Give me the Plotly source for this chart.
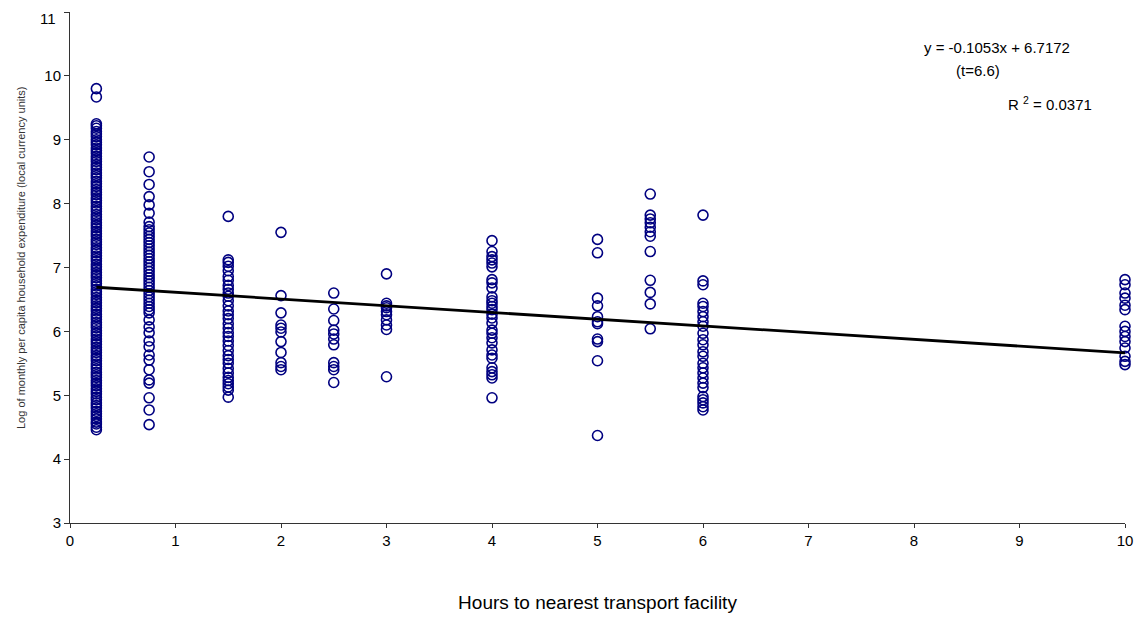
import plotly.graph_objects as go

# ---- data ----
x_025 = 0.25
y_025 = [4.46, 4.50, 4.55, 4.58, 4.63, 4.67, 4.71, 4.75, 4.80, 4.84, 4.88, 4.93, 4.97,
         5.02, 5.06, 5.10, 5.15, 5.19, 5.23, 5.28, 5.32, 5.36, 5.41, 5.45, 5.49, 5.54,
         5.58, 5.62, 5.67, 5.71, 5.75, 5.80, 5.84, 5.88, 5.93, 5.97, 6.01, 6.06, 6.10,
         6.14, 6.19, 6.23, 6.27, 6.32, 6.36, 6.40, 6.45, 6.49, 6.53, 6.58, 6.62, 6.66,
         6.71, 6.75, 6.79, 6.84, 6.88, 6.92, 6.97, 7.01, 7.05, 7.10, 7.14, 7.18, 7.23,
         7.27, 7.31, 7.36, 7.40, 7.44, 7.49, 7.53, 7.57, 7.62, 7.66, 7.70, 7.75, 7.79,
         7.83, 7.88, 7.92, 7.96, 8.01, 8.05, 8.09, 8.14, 8.18, 8.22, 8.27, 8.31, 8.35,
         8.40, 8.44, 8.48, 8.53, 8.57, 8.61, 8.66, 8.70, 8.74, 8.79, 8.83, 8.87, 8.92,
         8.96, 9.00, 9.05, 9.09, 9.13, 9.18, 9.22, 9.25, 9.67, 9.80]
x_075 = 0.75
y_075 = [4.54, 4.77, 4.96, 5.19, 5.24, 5.40, 5.55, 5.63, 5.76, 5.85, 5.98, 6.07, 6.18,
         6.29, 6.34, 6.39, 6.44, 6.49, 6.54, 6.59, 6.64, 6.69, 6.74, 6.79, 6.84, 6.89,
         6.94, 6.99, 7.04, 7.09, 7.14, 7.19, 7.24, 7.29, 7.34, 7.39, 7.44, 7.49, 7.54,
         7.59, 7.64, 7.71, 7.85, 7.98, 8.11, 8.30, 8.50, 8.73]
x_15 = 1.5
y_15 = [4.97, 5.08, 5.13, 5.18, 5.23, 5.28, 5.35, 5.42, 5.50, 5.56, 5.62, 5.70, 5.78,
        5.85, 5.92, 5.98, 6.05, 6.12, 6.20, 6.26, 6.32, 6.40, 6.48, 6.55, 6.60, 6.66,
        6.72, 6.80, 6.86, 6.95, 7.02, 7.08, 7.12, 7.80]
x_2 = 2.0
y_2 = [5.40, 5.45, 5.51, 5.67, 5.84, 5.99, 6.05, 6.10, 6.29, 6.56, 7.55]
x_25 = 2.5
y_25 = [5.20, 5.40, 5.45, 5.51, 5.79, 5.88, 5.96, 6.02, 6.17, 6.35, 6.60]
x_3 = 3.0
y_3 = [5.29, 6.03, 6.10, 6.18, 6.26, 6.31, 6.37, 6.40, 6.44, 6.90]
x_4 = 4.0
y_4 = [4.96, 5.27, 5.32, 5.37, 5.43, 5.58, 5.63, 5.71, 5.82, 5.90, 5.97, 6.02, 6.13,
       6.21, 6.27, 6.34, 6.39, 6.44, 6.48, 6.54, 6.68, 6.76, 6.81, 7.01, 7.07, 7.12,
       7.17, 7.25, 7.42]
x_5 = 5.0
y_5 = [4.37, 5.54, 5.84, 5.88, 6.12, 6.15, 6.23, 6.40, 6.52, 7.23, 7.44]
x_55 = 5.5
y_55 = [6.04, 6.43, 6.61, 6.80, 7.25, 7.49, 7.56, 7.63, 7.70, 7.76, 7.82, 8.15]
x_6 = 6.0
y_6 = [4.77, 4.82, 4.88, 4.93, 4.98, 5.12, 5.19, 5.27, 5.35, 5.43, 5.50, 5.61, 5.68,
       5.79, 5.87, 5.97, 6.08, 6.15, 6.23, 6.31, 6.39, 6.44, 6.73, 6.79, 7.82]
x_10 = 10.0
y_10 = [5.48, 5.53, 5.61, 5.74, 5.84, 5.92, 6.00, 6.08, 6.34, 6.41, 6.52, 6.60, 6.73, 6.81]

slope = -0.1053
intercept = 6.7172
fit_x = [0.25, 10.0]

x_ticks = list(range(0, 11))
y_ticks = list(range(3, 12))
y_top_label = "11"

eq_text = "y = -0.1053x + 6.7172"
t_text = "(t=6.6)"
r2_text = "R <sup>2</sup> = 0.0371"
x_title = "Hours to nearest transport facility"
y_title = "Log of monthly per capita household expenditure (local currency units)"

groups = [(x_025, y_025), (x_075, y_075), (x_15, y_15), (x_2, y_2), (x_25, y_25),
          (x_3, y_3), (x_4, y_4), (x_5, y_5), (x_55, y_55), (x_6, y_6), (x_10, y_10)]

xs, ys = [], []
for gx, gy in groups:
    xs += [gx] * len(gy)
    ys += gy

FONT = "Arial, 'Liberation Sans', sans-serif"

# page has an 8px body margin; figure sized to fit the 1142x622 window
W, H = 1126, 606
ML, MR, MT, MB = 62, 9, 4, 91
plot_w = W - ML - MR
plot_h = H - MT - MB

# top tick label is drawn slightly lower (as in the reference) so it is not clipped
y_ticktext = [str(v) for v in y_ticks[:-1]] + [""]

fig = go.Figure()
fig.add_trace(go.Scatter(
    x=xs, y=ys, mode="markers",
    marker=dict(symbol="circle-open", size=10, color="#000080",
                line=dict(width=1.6, color="#000080")),
    showlegend=False, hoverinfo="x+y", cliponaxis=False))
fig.add_trace(go.Scatter(
    x=fit_x, y=[slope * v + intercept for v in fit_x], mode="lines",
    line=dict(color="black", width=2.8), showlegend=False))

fig.update_layout(
    width=W, height=H,
    margin=dict(l=ML, r=MR, t=MT, b=MB, autoexpand=False),
    paper_bgcolor="white", plot_bgcolor="white",
    font=dict(family=FONT, size=15, color="black"),
    xaxis=dict(range=[0, 10], tickvals=x_ticks, showgrid=False, zeroline=False,
               showline=True, linecolor="#333333", linewidth=1, automargin=False,
               ticks="outside", ticklen=4, tickcolor="#333333",
               tickfont=dict(size=15), ticklabeloverflow="allow",
               title=dict(text=x_title, font=dict(size=19), standoff=47)),
    yaxis=dict(range=[3, 11], tickvals=y_ticks, ticktext=y_ticktext,
               showgrid=False, zeroline=False,
               showline=True, linecolor="#333333", linewidth=1, automargin=False,
               ticks="outside", ticklen=5, tickcolor="#333333",
               tickfont=dict(size=15), ticklabeloverflow="allow"),
    annotations=[
        dict(x=(5 - ML) / plot_w, y=(MT + plot_h - 250) / plot_h, xref="paper", yref="paper",
             text=y_title, showarrow=False,
             textangle=-90, font=dict(size=11, color="#333333")),
        dict(x=(50 - ML) / plot_w, y=(MT + plot_h - 10) / plot_h, xref="paper", yref="paper",
             text=y_top_label, showarrow=False, xanchor="right", yanchor="middle",
             font=dict(size=15)),
        dict(x=8.79, y=10.44, xref="x", yref="y", text=eq_text, showarrow=False,
             xanchor="center", font=dict(size=15)),
        dict(x=8.61, y=10.08, xref="x", yref="y", text=t_text, showarrow=False,
             xanchor="center", font=dict(size=15)),
        dict(x=9.29, y=9.56, xref="x", yref="y", text=r2_text, showarrow=False,
             xanchor="center", font=dict(size=15)),
    ],
)

fig.write_html("out.html")
